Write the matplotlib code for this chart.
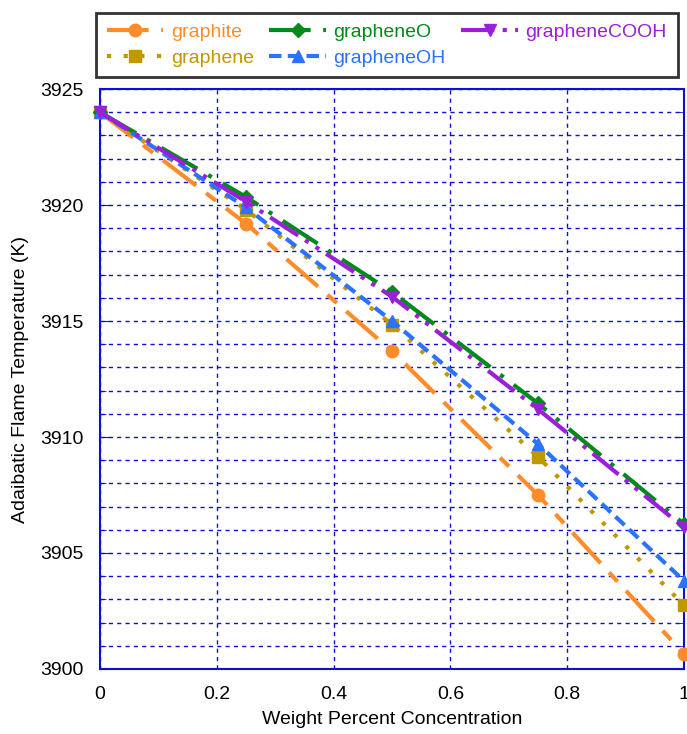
import matplotlib
matplotlib.use("Agg")
import matplotlib.pyplot as plt
from matplotlib.ticker import MultipleLocator

plt.rcParams["font.family"] = ["Liberation Sans", "DejaVu Sans"]

# weight percent concentration
conc = [0.0, 0.25, 0.5, 0.75, 1.0]

# adiabatic flame temperature (K)
graphite = [3924.0, 3919.2, 3913.7, 3907.5, 3900.65]
graphene = [3924.0, 3919.8, 3914.85, 3909.15, 3902.75]
graphene_oh = [3924.0, 3919.9, 3915.0, 3909.7, 3903.8]
graphene_o = [3924.0, 3920.35, 3916.25, 3911.45, 3906.25]
graphene_cooh = [3924.0, 3920.15, 3916.05, 3911.2, 3906.1]

xticks = [0, 0.2, 0.4, 0.6, 0.8, 1]
xtick_labels = ["0", "0.2", "0.4", "0.6", "0.8", "1"]

names = ["graphite", "graphene", "grapheneO", "grapheneOH", "grapheneCOOH"]
series = [graphite, graphene, graphene_o, graphene_oh, graphene_cooh]
colors = ["#ff8c2a", "#c09800", "#008a1a", "#2a72ff", "#9b1fd6"]
markers = ["o", "s", "D", "^", "v"]
dashes = [(10, 3, 3, 3), (1, 3), (10, 3, 1, 3), (3, 1.5), (8, 2, 1, 2, 1, 2)]
msizes = [9, 9, 7, 9, 9]

fig = plt.figure(figsize=(6.87, 7.34), dpi=100)
ax = fig.add_axes([0.1456, 0.0886, 0.85, 0.79])

handles = []
for name, y, c, m, d, ms in zip(names, series, colors, markers, dashes, msizes):
    h, = ax.plot(conc, y, color=c, lw=3, marker=m, ms=ms, dashes=d,
                 label=name, clip_on=False, zorder=3)
    handles.append(h)

ax.set_xlim(0, 1)
ax.set_ylim(3900, 3925)
ax.set_xticks(xticks)
ax.set_xticklabels(xtick_labels)
ax.yaxis.set_major_locator(MultipleLocator(5))
ax.yaxis.set_minor_locator(MultipleLocator(1))
ax.grid(True, which="major", axis="x", color="#1010cc", ls=(0, (3, 3)), lw=1)
ax.grid(True, which="both", axis="y", color="#1010cc", ls=(0, (3, 3)), lw=1)
ax.tick_params(axis="both", which="both", direction="in", right=True,
               labelsize=14, colors="#1010cc", labelcolor="black", pad=12)
ax.tick_params(axis="y", which="major", length=7)
ax.tick_params(axis="y", which="minor", length=4)
ax.tick_params(axis="x", length=0)
for s in ax.spines.values():
    s.set_color("#1010cc")
    s.set_linewidth(1.5)

ax.set_xlabel("Weight Percent Concentration", fontsize=14, labelpad=6)
ax.set_ylabel("Adaibatic Flame Temperature (K)", fontsize=14, labelpad=8)

# legend box sits above the axes, not stretched: three columns, column-major
leg = fig.legend(handles=handles, loc="upper left",
                 bbox_to_anchor=(96 / 687, 1 - 13 / 734), borderaxespad=0,
                 ncol=3, fontsize=14, frameon=True, fancybox=False,
                 handlelength=2.9, borderpad=0.55, labelspacing=0.4,
                 handletextpad=0.4, columnspacing=0.8)
leg.get_frame().set_edgecolor("black")
leg.get_frame().set_linewidth(2)
for t, c in zip(leg.get_texts(), colors):
    t.set_color(c)

fig.savefig("out.png", dpi=100)
